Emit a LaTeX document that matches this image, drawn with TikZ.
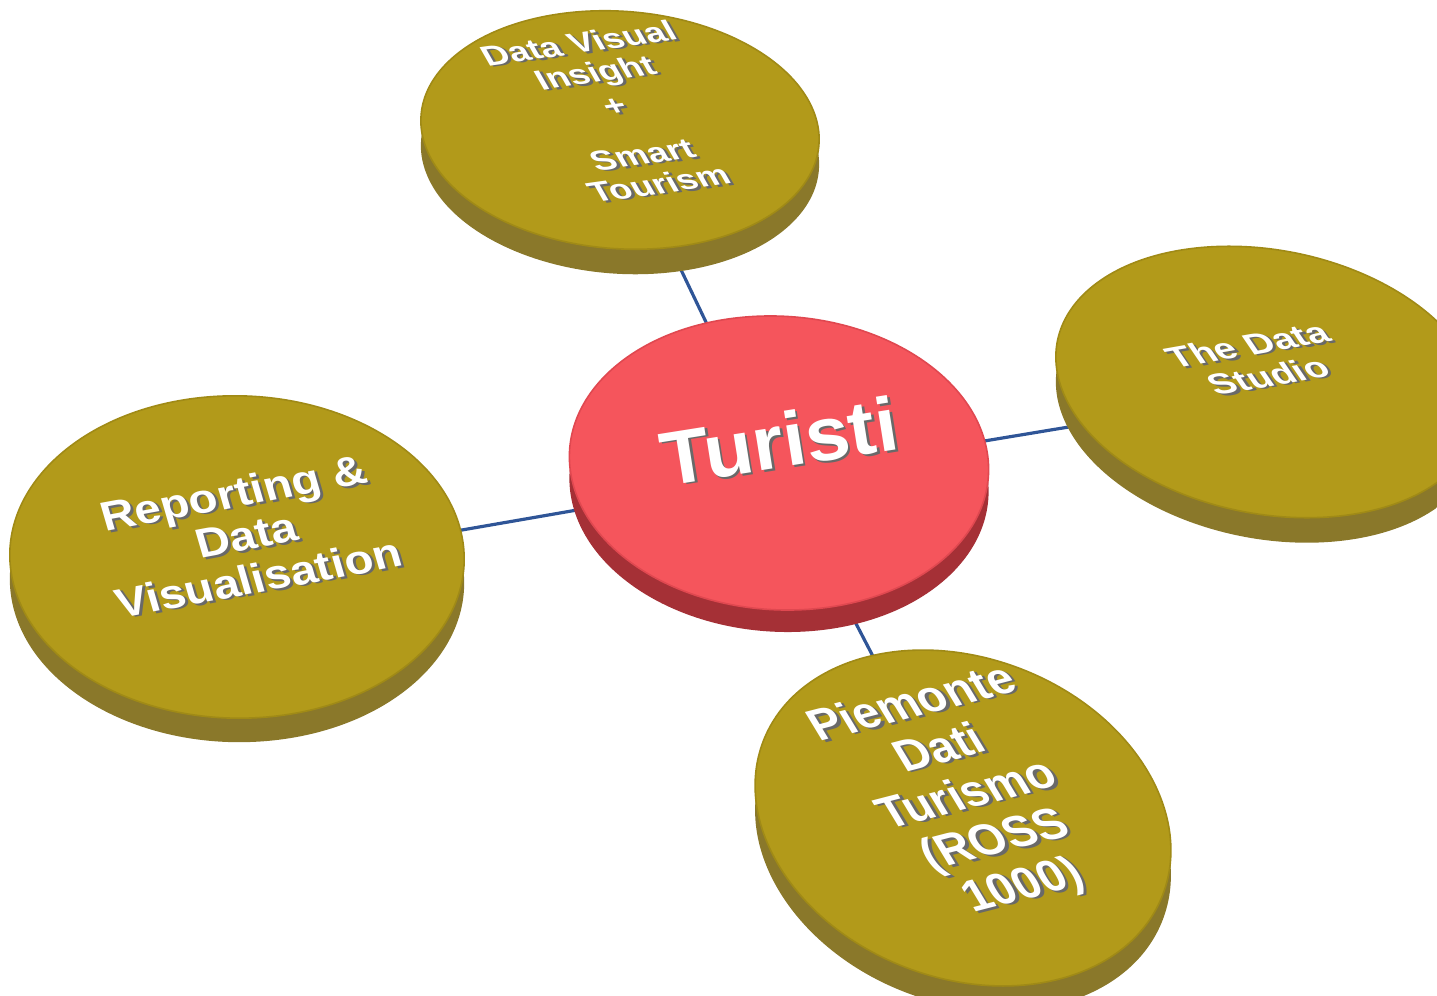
\documentclass[tikz,border=0pt]{standalone}
\usepackage{fontspec}
\setmainfont{Liberation Sans}
\usepackage{tikz}
\usetikzlibrary{shapes,positioning,backgrounds}
\usepackage{xcolor}
\definecolor{olivetop}{RGB}{178,154,26}
\definecolor{oliverim}{RGB}{160,138,22}
\definecolor{olivedark}{RGB}{138,120,42}
\definecolor{olivelight}{RGB}{198,186,128}
\definecolor{redtop}{RGB}{245,85,92}
\definecolor{redrim}{RGB}{224,72,80}
\definecolor{reddark}{RGB}{165,48,54}
\definecolor{redlight}{RGB}{214,110,116}
\definecolor{linkblue}{RGB}{47,85,151}
\definecolor{txtshadow}{RGB}{105,105,105}
\tikzstyle{disktop} = [ellipse, inner sep=0pt, fill=olivetop, draw=oliverim, line width=0.8pt]
\tikzstyle{diskside} = [ellipse, inner sep=0pt, left color=olivedark, middle color=olivelight, right color=olivedark]
\tikzstyle{hubtop} = [ellipse, inner sep=0pt, fill=redtop, draw=redrim, line width=0.8pt]
\tikzstyle{hubside} = [ellipse, inner sep=0pt, left color=reddark, middle color=redlight, right color=reddark]
\tikzstyle{link} = [draw=linkblue, line width=1.6pt]
\tikzstyle{disklabel} = [inner sep=0pt]
\newcommand{\shtxt}[1]{%
\makebox[0pt][l]{\hspace{1.2pt}\raisebox{-1.2pt}{\color{txtshadow}\begin{tabular}{@{}c@{}}#1\end{tabular}}}%
{\color{white}\begin{tabular}{@{}c@{}}#1\end{tabular}}}

\begin{document}
\begin{tikzpicture}[x=0.5pt, y=-0.5pt]
\useasboundingbox (0,0) rectangle (1437,996);
% Disk sides
\node (turisti-side) [hubside, minimum width=208pt, minimum height=148pt, rotate=4, xslant=-0.13] at (779,485) {};
\node (insight-side) [diskside, minimum width=194pt, minimum height=122pt, rotate=6, xslant=-0.3] at (620,155) {};
\node (studio-side) [diskside, minimum width=205pt, minimum height=138pt, rotate=3, xslant=-0.35] at (1268,407) {};
\node (reporting-side) [diskside, minimum width=226pt, minimum height=162pt, rotate=5, xslant=-0.1] at (237,581) {};
\node (piemonte-side) [diskside, minimum width=214pt, minimum height=160pt, rotate=-21] at (963,843) {};

% Disk tops
\node (turisti) [hubtop, minimum width=208pt, minimum height=148pt, rotate=4, xslant=-0.13] at (779,463) {};
\node (insight) [disktop, minimum width=194pt, minimum height=122pt, rotate=6, xslant=-0.3] at (620,130) {};
\node (studio) [disktop, minimum width=205pt, minimum height=138pt, rotate=3, xslant=-0.35] at (1268,382) {};
\node (reporting) [disktop, minimum width=226pt, minimum height=162pt, rotate=5, xslant=-0.1] at (237,557) {};
\node (piemonte) [disktop, minimum width=214pt, minimum height=160pt, rotate=-21] at (963,818) {};

% Labels
\node (turisti-text) [disklabel, rotate=9, yscale=0.95, font=\fontsize{40}{44}\selectfont\bfseries] at (781,452) {\shtxt{Turisti}};
\node (insight-text) [disklabel, rotate=8, xslant=-0.4, yscale=0.8, font=\fontsize{18}{19.5}\selectfont\bfseries] at (621,118) {\shtxt{Data Visual\\Insight\\[3pt]+\\[13pt]Smart\\Tourism}};
\node (studio-text) [disklabel, rotate=10, xslant=-0.45, yscale=0.8, font=\fontsize{19}{21}\selectfont\bfseries] at (1261,365) {\shtxt{The Data\\Studio}};
\node (reporting-text) [disklabel, rotate=10.5, xslant=-0.1, yscale=0.88, font=\fontsize{23.5}{25}\selectfont\bfseries] at (248,542) {\shtxt{Reporting \&\\Data\\Visualisation}};
\node (piemonte-text) [disklabel, rotate=14.5, xslant=-0.3, font=\fontsize{23}{25.5}\selectfont\bfseries] at (970,799) {\shtxt{Piemonte\\Dati\\Turismo\\(ROSS\\1000)}};

% Links
\begin{scope}[on background layer]
\draw[link] ([yshift=-6pt]turisti.center) -- ([yshift=-6pt]insight.center);
\draw[link] ([yshift=-6pt]turisti.center) -- ([yshift=-6pt]studio.center);
\draw[link] ([yshift=-6pt]turisti.center) -- ([yshift=-6pt]reporting.center);
\draw[link] ([yshift=-6pt]turisti.center) -- ([yshift=-6pt]piemonte.center);
\end{scope}
\end{tikzpicture}
\end{document}
